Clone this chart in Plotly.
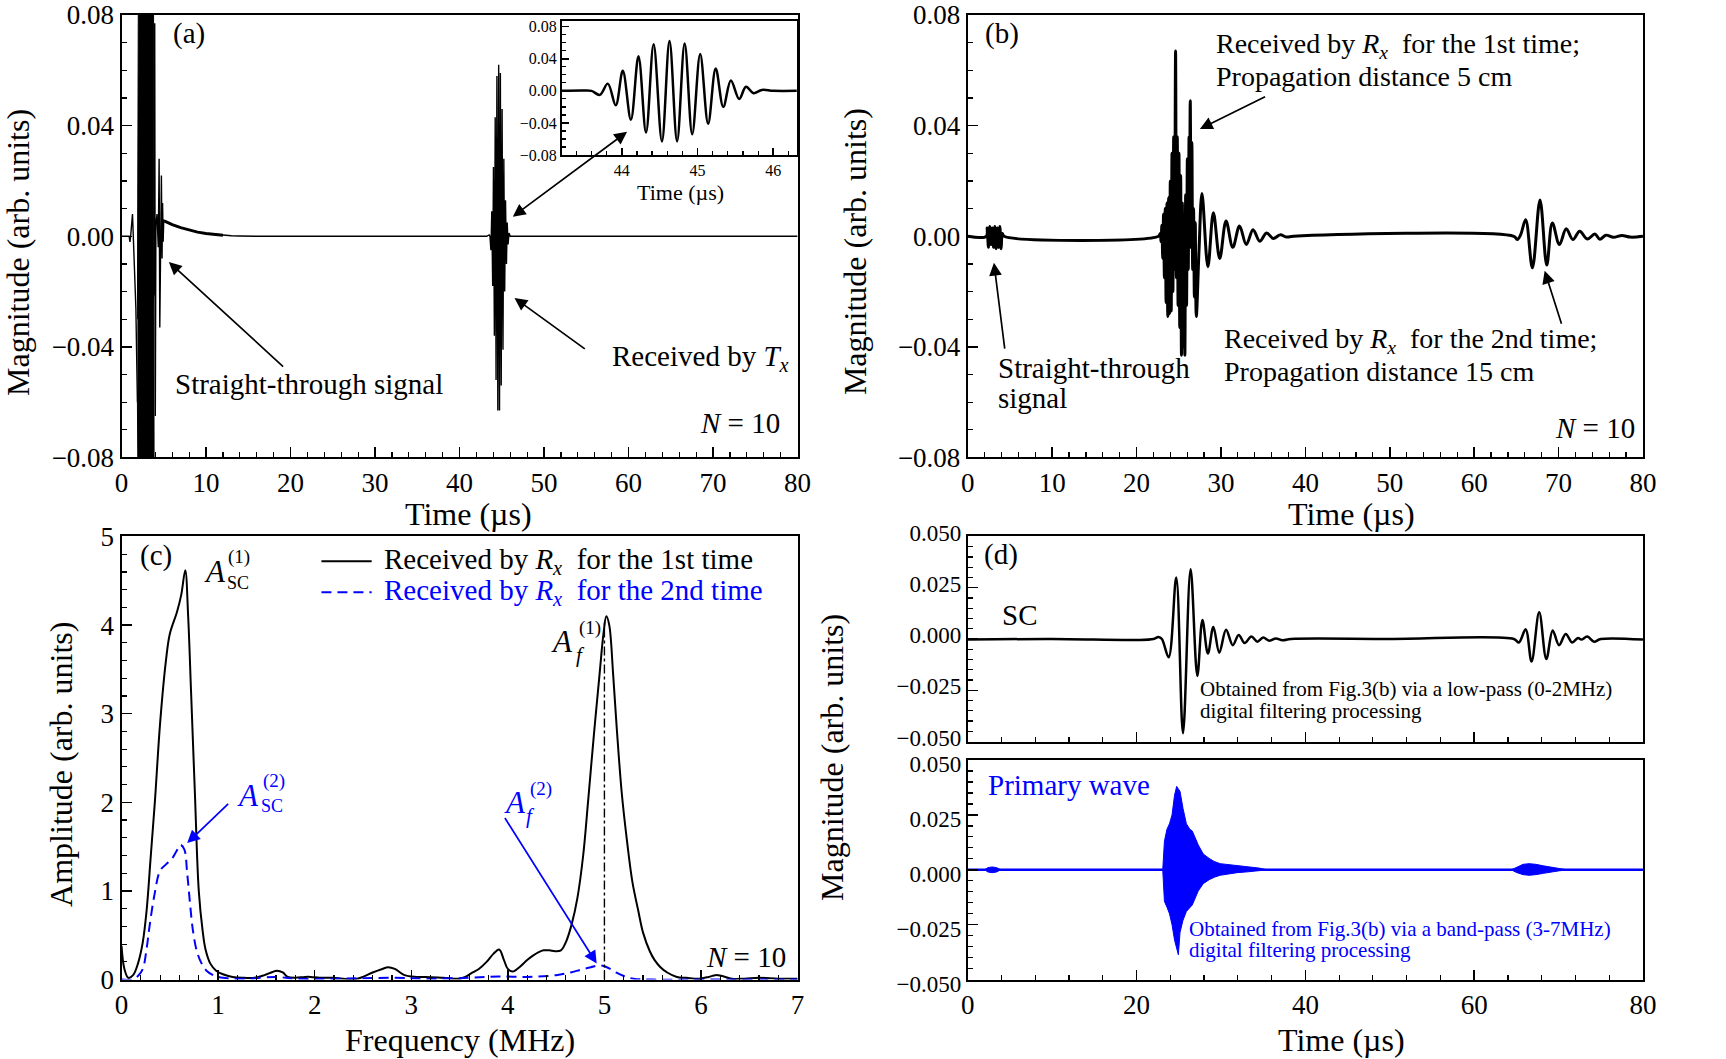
import plotly.graph_objects as go

FONT = "Liberation Serif"
BLUE = "#0000ff"
BLACK = "#000000"

# ---------------- Panel (a): signal received by T_x ----------------
a_pre_t = [0.0, 0.9, 1.0, 1.08, 1.3, 1.45, 1.7, 1.88]
a_pre_v = [0.0, 0.0, -0.002, 0.0, 0.008, -0.004, -0.026, -0.060]
# saturated straight-through block (envelope, beyond the axis limits)
a_blk_t = [1.88, 2.02, 3.78, 3.86]
a_blk_hi = [-0.030, 0.12, 0.12, 0.0]
a_blk_lo = [-0.060, -0.12, -0.12, -0.10]
a_post_t = [3.86, 3.93, 4.0, 4.07, 4.2, 4.35, 4.45, 4.53, 4.62, 4.72, 4.8, 4.86, 4.93, 5.0, 5.1]
a_post_v = [-0.02, 0.077, -0.065, 0.004, 0.008, -0.004, 0.028, -0.033, 0.010, 0.022, -0.008, 0.012, -0.002, 0.006, 0.0055]
a_tail_t = [5.1, 6.0, 7.0, 8.0, 9.0, 10.0, 11.0, 12.0, 13.0, 14.0, 16.0, 43.2]
a_tail_v = [0.0055, 0.0042, 0.0031, 0.0022, 0.0015, 0.0010, 0.0007, 0.0004, 0.0002, 0.0001, 0.0, 0.0]
a_end_t = [46.32, 80.0]
a_end_v = [0.0, 0.0]

# inset: the echo received by T_x (also drawn in panel a)
ins_t = [43.2, 43.5, 43.6, 43.71, 43.815, 43.92, 44.013, 44.12, 44.22, 44.32, 44.42, 44.53,
         44.63, 44.73, 44.83, 44.93, 45.035, 45.14, 45.24, 45.34, 45.44, 45.55, 45.64, 45.74,
         45.85, 46.0, 46.32]
ins_v = [0.0, 0.0005, 0.0, -0.005, 0.009, -0.018, 0.025, -0.036, 0.043, -0.052, 0.058, -0.063,
         0.062, -0.063, 0.059, -0.054, 0.046, -0.041, 0.028, -0.020, 0.013, -0.010, 0.005, -0.003,
         0.0012, 0.0, 0.0]

# ---------------- Panel (b): signal received by R_x ----------------
b_st_t = [0.0, 2.2, 2.3, 2.45, 2.6, 2.75, 2.9, 3.05, 3.2, 3.35, 3.5, 3.65, 3.8, 3.95, 4.1, 4.3]
b_st_v = [0, 0, 0.003, -0.004, 0.0035, -0.003, 0.003, -0.004, 0.0035, -0.0045, 0.003, -0.004,
          0.0035, -0.0045, 0.001, 0]
b_r1_t = [22.6, 22.8, 22.9, 23.0, 23.1, 23.2, 23.3, 23.4, 23.5, 23.6, 23.7, 23.8, 23.9, 24.0, 24.1,
          24.2, 24.3, 24.4, 24.5, 24.62, 24.72, 24.82, 24.92, 25.02, 25.12, 25.22, 25.32, 25.42,
          25.52, 25.62, 25.72, 25.82, 25.92, 26.02, 26.12, 26.22, 26.28, 26.36, 26.46, 26.55, 26.65,
          26.75, 26.85, 26.95, 27.08, 27.4, 27.75, 28.45, 29.1, 29.85, 30.6, 31.4, 32.2, 33.0, 33.8,
          34.6, 35.4, 36.2, 37.0, 37.8, 38.6]
b_r1_v = [0, 0.001, -0.002, 0.004, -0.008, 0.008, -0.015, 0.010, -0.024, 0.012, -0.029, 0.014,
          -0.028, 0.020, -0.027, 0.030, -0.020, 0.036, -0.012, 0.067, -0.015, 0.036, -0.025, 0.030,
          -0.033, 0.022, -0.043, 0.012, -0.040, 0.008, -0.043, 0.015, -0.025, 0.028, -0.012, 0.036,
          0.010, 0.049, -0.004, 0.034, -0.012, 0.010, -0.022, 0.005, -0.029, -0.005, 0.0155, -0.011,
          0.0085, -0.008, 0.0055, -0.004, 0.0037, -0.003, 0.0024, -0.0018, 0.0012, -0.0008, 0.0005,
          -0.0003, 0]
b_r2_t = [64.7, 65.1, 65.5, 66.1, 66.9, 67.8, 68.6, 69.26, 70.1, 70.9, 71.7, 72.5, 73.4, 74.3,
          74.9, 75.6, 76.5, 77.5, 78.5, 80.0]
b_r2_v = [0, -0.0012, 0.0005, 0.006, -0.0114, 0.0131, -0.0104, 0.0048, -0.003, 0.0027, -0.0012,
          0.0018, -0.001, 0.0008, -0.0011, 0.0004, -0.0004, 0.0003, -0.0003, 0]

# ---------------- Panel (c): spectra ----------------
c1_f = [0.00, 0.03, 0.07, 0.12, 0.17, 0.22, 0.26, 0.30, 0.345, 0.40, 0.46, 0.50, 0.575, 0.62, 0.66,
        0.69, 0.72, 0.76, 0.80, 0.84, 0.87, 0.92, 0.98, 1.05, 1.15, 1.25, 1.38, 1.48, 1.55, 1.61,
        1.67, 1.72, 1.80, 1.90, 1.96, 2.05, 2.18, 2.30, 2.40, 2.50, 2.60, 2.70, 2.76, 2.83, 2.93,
        3.05, 3.15, 3.33, 3.50, 3.56, 3.62, 3.70, 3.78, 3.85, 3.91, 3.96, 4.00, 4.05, 4.12, 4.20,
        4.26, 4.32, 4.37, 4.43, 4.49, 4.55, 4.60, 4.66, 4.72, 4.78, 4.83, 4.89, 4.95, 4.99, 5.02,
        5.05, 5.09, 5.13, 5.18, 5.23, 5.29, 5.35, 5.40, 5.47, 5.52, 5.58, 5.65, 5.75, 5.85, 5.98,
        6.08, 6.15, 6.22, 6.32, 6.45, 6.6, 6.8, 7.0]
c1_a = [0.38, 0.12, 0.02, 0.05, 0.18, 0.42, 0.78, 1.35, 2.0, 2.9, 3.6, 3.9, 4.15, 4.35, 4.62,
        4.1, 3.25, 2.1, 1.0, 0.55, 0.34, 0.18, 0.10, 0.06, 0.03, 0.02, 0.02, 0.05, 0.08, 0.10,
        0.08, 0.03, 0.02, 0.03, 0.03, 0.02, 0.02, 0.01, 0.00, 0.03, 0.08, 0.12, 0.14, 0.12, 0.05,
        0.03, 0.03, 0.02, 0.01, 0.03, 0.07, 0.12, 0.20, 0.29, 0.34, 0.22, 0.12, 0.09, 0.14, 0.22,
        0.27, 0.31, 0.33, 0.33, 0.32, 0.33, 0.42, 0.62, 0.92, 1.4, 2.0, 2.75, 3.45, 3.9, 4.1,
        4.0, 3.45, 2.8, 2.1, 1.6, 1.1, 0.78, 0.53, 0.32, 0.22, 0.14, 0.08, 0.03, 0.02, 0.01,
        0.03, 0.05, 0.04, 0.01, 0.01, 0.02, 0.01, 0.01]
c2_f = [0.0, 0.11, 0.17, 0.22, 0.26, 0.29, 0.34, 0.40, 0.46, 0.52, 0.57, 0.61, 0.65, 0.68, 0.71,
        0.74, 0.78, 0.83, 0.88, 0.95, 1.05, 1.3, 1.6, 1.8, 2.2, 2.8, 3.2, 3.6, 3.9, 4.2, 4.5, 4.65,
        4.75, 4.86, 4.95, 5.0, 5.06, 5.12, 5.2, 5.3, 5.5, 6.0, 7.0]
c2_a = [0.0, 0.0, 0.04, 0.12, 0.35, 0.6, 0.95, 1.23, 1.30, 1.36, 1.45, 1.52, 1.47, 1.2, 0.85,
        0.55, 0.32, 0.18, 0.1, 0.05, 0.02, 0.01, 0.03, 0.01, 0.01, 0.02, 0.01, 0.02, 0.035, 0.03,
        0.05, 0.08, 0.11, 0.14, 0.16, 0.15, 0.12, 0.08, 0.04, 0.01, 0.0, 0.0, 0.0]
c_mark_f = [5.0, 5.0]
c_mark_a = [0.0, 4.05]

# ---------------- Panel (d): filtered signals ----------------
d_sc_t = [0.0, 10.0, 20.0, 22.0, 22.6, 23.0, 23.8, 24.7, 25.5, 26.4, 27.2, 27.8, 28.45, 29.1, 29.8,
          30.6, 31.4, 32.1, 32.8, 33.6, 34.3, 35.0, 35.7, 36.5, 37.3, 38.3, 50.0, 64.7, 65.3, 66.1,
          66.8, 67.7, 68.55, 69.3, 70.05, 70.85, 71.6, 72.3, 72.7, 73.4, 74.2, 75.0, 80.0]
d_sc_v = [-0.0003, 0.0, -0.0005, 0.0, 0.001, 0.0, -0.0089, 0.030, -0.046, 0.034, -0.018, 0.0093,
          -0.0071, 0.0059, -0.0067, 0.0045, -0.003, 0.002, -0.002, 0.0012, -0.0013, 0.0007,
          -0.0008, 0.0003, -0.0006, 0.0, 0.0, 0.0, -0.0017, 0.0047, -0.011, 0.013, -0.0098,
          0.0042, -0.003, 0.0025, -0.0017, 0.0005, -0.0003, 0.0012, -0.0013, 0.0, -0.0003]
d_pw_base_t = [0.0, 80.0]
d_pw_base_v = [0.0, 0.0]
# primary-wave envelopes (dense 5 MHz oscillation)
d_pw1_t = [23.1, 23.3, 23.6, 23.9, 24.2, 24.5, 24.75, 24.95, 25.15, 25.5, 25.9, 26.3, 26.6, 27.3,
           27.9, 28.6, 29.2, 29.9, 30.6, 31.9, 33.2, 34.5, 35.5]
d_pw1_hi = [0.0, 0.013, 0.0185, 0.021, 0.025, 0.034, 0.038, 0.037, 0.0357, 0.028, 0.021, 0.0185,
            0.0177, 0.0114, 0.0072, 0.0052, 0.0038, 0.0028, 0.0025, 0.002, 0.0012, 0.0008, 0.0]
d_pw1_lo = [0.0, -0.0144, -0.017, -0.020, -0.025, -0.032, -0.036, -0.0387, -0.0285, -0.023, -0.019,
            -0.0175, -0.016, -0.0097, -0.0063, -0.0045, -0.0034, -0.0025, -0.0019, -0.0013,
            -0.0009, -0.0005, 0.0]
d_pw2_t = [64.4, 65.0, 65.8, 66.5, 67.3, 68.2, 69.0, 70.0, 71.0]
d_pw2_hi = [0.0, 0.0012, 0.0025, 0.0028, 0.0025, 0.0018, 0.0012, 0.0006, 0.0]
d_pw2_lo = [0.0, -0.0012, -0.0022, -0.0025, -0.0022, -0.0016, -0.0010, -0.0005, 0.0]
d_pw0_t = [2.0, 2.4, 2.9, 3.4, 3.9]
d_pw0_hi = [0.0, 0.001, 0.0013, 0.001, 0.0]
d_pw0_lo = [0.0, -0.001, -0.0013, -0.001, 0.0]

fig = go.Figure()


def line(x, y, xa, ya, color=BLACK, width=1.5, shape="linear", dash="solid", name=None):
    fig.add_trace(go.Scatter(x=x, y=y, mode="lines", xaxis=xa, yaxis=ya, name=name,
                             line=dict(color=color, width=width, shape=shape, dash=dash),
                             showlegend=False, hoverinfo="skip"))


def band(t, hi, lo, xa, ya, color=BLACK):
    fig.add_trace(go.Scatter(x=list(t) + list(t)[::-1], y=list(hi) + list(lo)[::-1],
                             mode="lines", fill="toself", fillcolor=color,
                             line=dict(color=color, width=1), xaxis=xa, yaxis=ya,
                             showlegend=False, hoverinfo="skip"))


# (a)
a_all_t = a_pre_t + a_post_t + a_tail_t + ins_t + a_end_t
a_all_v = a_pre_v + a_post_v + a_tail_v + ins_v + a_end_v
band(a_blk_t, a_blk_hi, a_blk_lo, "x", "y")
line(a_all_t, a_all_v, "x", "y", width=1.4)
line(a_tail_t[:8], a_tail_v[:8], "x", "y", width=3)

# (b)
line(b_st_t + b_r1_t + b_r2_t, b_st_v + b_r1_v + b_r2_v, "x2", "y2", width=3, shape="spline")

# (c)
line(c1_f, c1_a, "x3", "y3", width=2, shape="spline", name="1st")
line(c2_f, c2_a, "x3", "y3", color=BLUE, width=2, shape="spline", dash="10px,6px", name="2nd")
line(c_mark_f, c_mark_a, "x3", "y3", width=1.4, dash="dashdot")

# (d) upper
line(d_sc_t, d_sc_v, "x4", "y4", width=2.5, shape="spline")
# (d) lower
line(d_pw_base_t, d_pw_base_v, "x5", "y5", color=BLUE, width=2.5)
band(d_pw1_t, d_pw1_hi, d_pw1_lo, "x5", "y5", color=BLUE)
band(d_pw2_t, d_pw2_hi, d_pw2_lo, "x5", "y5", color=BLUE)
band(d_pw0_t, d_pw0_hi, d_pw0_lo, "x5", "y5", color=BLUE)

# inset
line(ins_t, ins_v, "x6", "y6", width=2.5, shape="spline")


def axis(domain, rng, dtick, mdtick, anchor, labels=True, fmt=None, size=27, tlen=10, mlen=5):
    return dict(domain=domain, range=rng, dtick=dtick, tick0=0, ticks="inside", ticklen=tlen,
                tickwidth=1.5, tickcolor=BLACK, showline=True, linewidth=2, linecolor=BLACK,
                mirror=True, showgrid=False, zeroline=False, showticklabels=labels,
                tickformat=fmt, tickfont=dict(family=FONT, size=size, color=BLACK),
                minor=dict(dtick=mdtick, tick0=0, ticks="inside", ticklen=mlen, tickwidth=1.2,
                           tickcolor=BLACK, showgrid=False),
                anchor=anchor, fixedrange=True, automargin=False)


XA = [0.0704, 0.4621]
XB = [0.5607, 0.9519]
YTOP = [0.5680, 0.9858]
YC = [0.0750, 0.4934]
YD1 = [0.2998, 0.4934]
YD2 = [0.0750, 0.2823]
XI = [0.3256, 0.4616]
YI = [0.8536, 0.9805]

e = 1e-7
fig.update_layout(
    width=1726, height=1059, margin=dict(l=0, r=0, t=0, b=0),
    paper_bgcolor="white", plot_bgcolor="white", hovermode=False, showlegend=False,
    font=dict(family=FONT, color=BLACK),
    xaxis=axis(XA, [0, 80], 10, 2, "y"),
    yaxis=axis(YTOP, [-0.08 - e, 0.08 + e], 0.04, 0.01, "x", fmt=".2f"),
    xaxis2=axis(XB, [0, 80], 10, 2, "y2"),
    yaxis2=axis(YTOP, [-0.08 - e, 0.08 + e], 0.04, 0.01, "x2", fmt=".2f"),
    xaxis3=axis(XA, [0, 7], 1, 0.2, "y3"),
    yaxis3=axis(YC, [0, 5], 1, 0.2, "x3"),
    xaxis4=axis(XB, [0, 80], 20, 4, "y4", labels=False),
    yaxis4=axis(YD1, [-0.05 - e, 0.05 + e], 0.025, 0.005, "x4", fmt=".3f", size=23),
    xaxis5=axis(XB, [0, 80], 20, 4, "y5"),
    yaxis5=axis(YD2, [-0.05 - e, 0.05 + e], 0.025, 0.005, "x5", fmt=".3f", size=23),
    xaxis6=axis(XI, [43.21, 46.31], 1, 0.2, "y6", size=16, tlen=7, mlen=4),
    yaxis6=axis(YI, [-0.08, 0.0875], 0.04, 0.01, "x6", fmt=".2f", size=16, tlen=7, mlen=4),
)
fig.update_layout(yaxis4=dict(ticklabelshift=-4), yaxis5=dict(ticklabelshift=4))

ann = []


def T(x, y, s, xr, yr, size=29, color=BLACK, xa="left", ya="middle", angle=0):
    ann.append(dict(x=x, y=y, text=s, xref=xr, yref=yr, showarrow=False, xanchor=xa,
                    yanchor=ya, textangle=angle,
                    font=dict(family=FONT, size=size, color=color)))


def A(hx, hy, tx, ty, xr, yr, color=BLACK, both=False):
    d = dict(x=hx, y=hy, ax=tx, ay=ty, xref=xr, yref=yr, axref=xr, ayref=yr, text="",
             showarrow=True, arrowhead=2, arrowsize=1.5, arrowwidth=1.7, arrowcolor=color)
    if both:
        d.update(arrowside="end+start", startarrowhead=2, startarrowsize=1.5)
    ann.append(d)


Rx = "<i>R</i><sub><i>x</i></sub>"
# axis titles
T(0.0104, 0.762, "Magnitude (arb. units)", "paper", "paper", size=32, xa="center", angle=-90)
T(0.4954, 0.762, "Magnitude (arb. units)", "paper", "paper", size=32, xa="center", angle=-90)
T(0.2717, 0.5150, "Time (µs)", "paper", "paper", size=32, xa="center")
T(0.7833, 0.5150, "Time (µs)", "paper", "paper", size=32, xa="center")
T(0.2665, 0.0175, "Frequency (MHz)", "paper", "paper", size=32, xa="center")
T(0.7770, 0.0175, "Time (µs)", "paper", "paper", size=32, xa="center")
T(0.0353, 0.2786, "Amplitude (arb. units)", "paper", "paper", size=32, xa="center", angle=-90)
T(0.4820, 0.2852, "Magnitude (arb. units)", "paper", "paper", size=32, xa="center", angle=-90)
T(0.394, 0.8178, "Time (µs)", "paper", "paper", size=22, xa="center")

# (a)
T(5.9, 0.0734, "(a)", "x", "y")
T(6.1, -0.0534, "Straight-through signal", "x", "y")
T(57.8, -0.0440, "Received by <i>T</i><sub><i>x</i></sub>", "x", "y")
T(78.1, -0.0676, "<i>N</i> = 10", "x", "y", xa="right")
A(5.6, -0.0093, 19.3, -0.0476, "x", "y")
A(46.5, -0.0223, 55.0, -0.0411, "x", "y")
A(46.3, 0.0071, 60.0, 0.0382, "x", "y", both=True)

# (b)
T(1.75, 0.0734, "(b)", "x2", "y2")
T(29.2, 0.0690, "Received by " + Rx + "  for the 1st time;", "x2", "y2", size=28)
T(29.2, 0.0577, "Propagation distance 5 cm", "x2", "y2", size=28)
T(3.3, -0.0478, "Straight-through", "x2", "y2")
T(3.3, -0.0585, "signal", "x2", "y2")
T(30.1, -0.0378, "Received by " + Rx + "  for the 2nd time;", "x2", "y2", size=28)
T(30.1, -0.0490, "Propagation distance 15 cm", "x2", "y2", size=28)
T(79.3, -0.0693, "<i>N</i> = 10", "x2", "y2", xa="right")
A(27.5, 0.0388, 35.4, 0.0507, "x2", "y2")
A(3.1, -0.0096, 4.4, -0.0412, "x2", "y2")
A(68.35, -0.0125, 70.4, -0.0322, "x2", "y2")

# (c)
T(0.17, 4.78, "(c)", "x3", "y3")
T(0.83, 4.60, "<i>A</i>", "x3", "y3", size=31)
T(1.08, 4.77, "(1)", "x3", "y3", size=19)
T(1.07, 4.48, "SC", "x3", "y3", size=18)
T(4.43, 3.81, "<i>A</i>", "x3", "y3", size=31)
T(4.72, 3.97, "(1)", "x3", "y3", size=19)
T(4.69, 3.66, "<i>f</i>", "x3", "y3", size=21)
T(1.18, 2.08, "<i>A</i>", "x3", "y3", size=31, color=BLUE)
T(1.44, 2.24, "(2)", "x3", "y3", size=19, color=BLUE)
T(1.42, 1.96, "SC", "x3", "y3", size=18, color=BLUE)
T(3.94, 2.00, "<i>A</i>", "x3", "y3", size=31, color=BLUE)
T(4.21, 2.15, "(2)", "x3", "y3", size=19, color=BLUE)
T(4.17, 1.85, "<i>f</i>", "x3", "y3", size=21, color=BLUE)
A(0.68, 1.54, 1.12, 2.0, "x3", "y3", color=BLUE)
A(4.92, 0.18, 3.96, 1.84, "x3", "y3", color=BLUE)
T(6.9, 0.26, "<i>N</i> = 10", "x3", "y3", xa="right")
T(2.70, 4.72, "Received by " + Rx + "  for the 1st time", "x3", "y3")
T(2.70, 4.37, "Received by " + Rx + "  for the 2nd time", "x3", "y3", color=BLUE)

# (d)
T(1.65, 0.0413, "(d)", "x4", "y4")
T(3.8, 0.0119, "SC", "x4", "y4")
T(27.3, -0.0244, "Obtained from Fig.3(b) via a low-pass (0-2MHz)", "x4", "y4", size=21)
T(27.3, -0.0349, "digital filtering processing", "x4", "y4", size=21)
T(2.2, 0.0385, "Primary wave", "x5", "y5", color=BLUE)
T(26.0, -0.0269, "Obtained from Fig.3(b) via a band-pass (3-7MHz)", "x5", "y5", size=21, color=BLUE)
T(26.0, -0.0366, "digital filtering processing", "x5", "y5", size=21, color=BLUE)

fig.update_layout(annotations=ann)

# legend sample lines for panel (c)
fig.update_layout(shapes=[
    dict(type="line", xref="x3", yref="y3", x0=2.07, x1=2.59, y0=4.72, y1=4.72,
         line=dict(color=BLACK, width=2)),
    dict(type="line", xref="x3", yref="y3", x0=2.07, x1=2.59, y0=4.37, y1=4.37,
         line=dict(color=BLUE, width=2, dash="10px,6px")),
])

fig.write_html("out.html", config={"displayModeBar": False, "staticPlot": True},
               post_script="document.body.style.margin='0px';")
